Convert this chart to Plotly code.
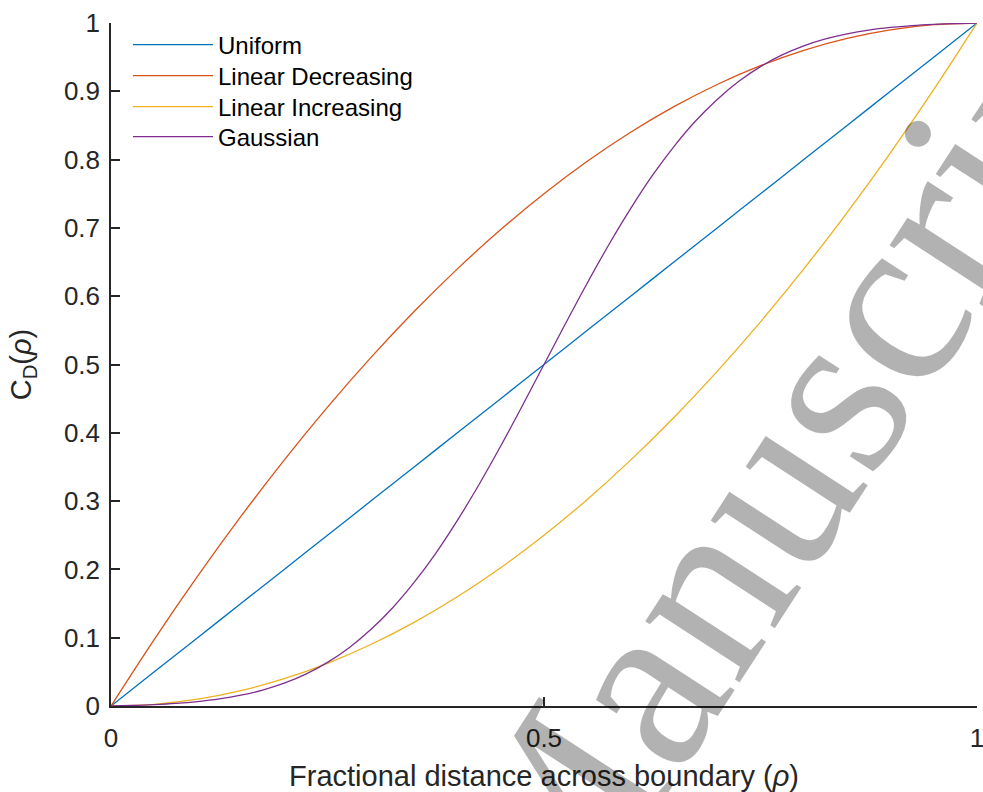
import plotly.graph_objects as go

# Data
rho = [0.0, 0.05, 0.10, 0.15, 0.20, 0.25, 0.30, 0.35, 0.40, 0.45, 0.50,
       0.55, 0.60, 0.65, 0.70, 0.75, 0.80, 0.85, 0.90, 0.95, 1.0]
uniform = [0.0, 0.05, 0.10, 0.15, 0.20, 0.25, 0.30, 0.35, 0.40, 0.45, 0.50,
           0.55, 0.60, 0.65, 0.70, 0.75, 0.80, 0.85, 0.90, 0.95, 1.0]
linear_decreasing = [0.0, 0.0975, 0.19, 0.2775, 0.36, 0.4375, 0.51, 0.5775, 0.64, 0.6975, 0.75,
                     0.7975, 0.84, 0.8775, 0.91, 0.9375, 0.96, 0.9775, 0.99, 0.9975, 1.0]
linear_increasing = [0.0, 0.0025, 0.01, 0.0225, 0.04, 0.0625, 0.09, 0.1225, 0.16, 0.2025, 0.25,
                     0.3025, 0.36, 0.4225, 0.49, 0.5625, 0.64, 0.7225, 0.81, 0.9025, 1.0]

rho_fine = [0.0, 0.025, 0.05, 0.075, 0.10, 0.125, 0.15, 0.175, 0.20, 0.225,
            0.25, 0.275, 0.30, 0.325, 0.35, 0.375, 0.40, 0.425, 0.45, 0.475,
            0.50, 0.525, 0.55, 0.575, 0.60, 0.625, 0.65, 0.675, 0.70, 0.725,
            0.75, 0.775, 0.80, 0.825, 0.85, 0.875, 0.90, 0.925, 0.95, 0.975, 1.0]
gaussian = [0.0, 0.0008, 0.002, 0.0038, 0.0065, 0.0103, 0.0158, 0.0233, 0.0334, 0.0467,
            0.0638, 0.0853, 0.1119, 0.1435, 0.1809, 0.2236, 0.2718, 0.3243, 0.3806, 0.4397,
            0.50, 0.5603, 0.6194, 0.6757, 0.7282, 0.7764, 0.8191, 0.8565, 0.8881, 0.9147,
            0.9362, 0.9533, 0.9666, 0.9767, 0.9842, 0.9897, 0.9935, 0.9962, 0.998, 0.9992, 1.0]

series_names = ["Uniform", "Linear Decreasing", "Linear Increasing", "Gaussian"]
series_x = [rho, rho, rho, rho_fine]
series_values = [uniform, linear_decreasing, linear_increasing, gaussian]
colors = ["#0072BD", "#D95319", "#EDB120", "#7E2F8E"]

y_ticks = [0, 0.1, 0.2, 0.3, 0.4, 0.5, 0.6, 0.7, 0.8, 0.9, 1]
y_ticklabels = ["0", "0.1", "0.2", "0.3", "0.4", "0.5", "0.6", "0.7", "0.8", "0.9", "1"]
x_ticks = [0, 0.5, 1]
x_ticklabels = ["0", "0.5", "1"]

FONT = "Liberation Sans, Arial, sans-serif"

fig = go.Figure()
legend_ids = ["legend", "legend2", "legend3", "legend4"]
for name, xs, vals, col, lg in zip(series_names, series_x, series_values, colors, legend_ids):
    fig.add_trace(go.Scatter(x=xs, y=vals, mode="lines", name=name, legend=lg,
                             line=dict(color=col, width=1.3, shape="spline", smoothing=0.8)))

axis_common = dict(showline=True, linecolor="#262626", linewidth=1.5, mirror=False,
                   ticks="inside", ticklen=9, tickwidth=1.5, tickcolor="#262626",
                   showgrid=False, zeroline=False, ticklabeloverflow="allow",
                   tickfont=dict(family=FONT, size=26, color="#262626"))

# one legend box per entry so rows sit at the reference spacing
row_y = [0.9678, 0.9224, 0.8770, 0.8331]
legend_layout = {}
for lg, ry in zip(legend_ids, row_y):
    legend_layout[lg] = dict(x=0.0196, y=ry, xanchor="left", yanchor="middle",
                             bgcolor="rgba(0,0,0,0)", borderwidth=0,
                             font=dict(family=FONT, size=24, color="#000000"),
                             itemwidth=80)

fig.update_layout(
    width=983, height=792,
    margin=dict(l=111, r=6, t=23, b=86, autoexpand=False),
    paper_bgcolor="white", plot_bgcolor="white",
    showlegend=True,
    xaxis=dict(range=[0, 1], tickvals=x_ticks, ticktext=x_ticklabels, ticklabelstandoff=8,
               title=dict(text="Fractional distance across boundary (<i>ρ</i>)",
                          font=dict(family=FONT, size=29, color="#262626"),
                          standoff=20),
               **axis_common),
    yaxis=dict(range=[0, 1], tickvals=y_ticks, ticktext=y_ticklabels, ticklabelstandoff=4,
               title=dict(text="C<sub>D</sub>(<i>ρ</i>)",
                          font=dict(family=FONT, size=29, color="#262626"),
                          standoff=24),
               **axis_common),
    **legend_layout,
)

fig.add_annotation(text="Manuscript", x=0.7875, y=0.3777, xref="x", yref="y",
                   xanchor="center", yanchor="middle", showarrow=False, textangle=-57,
                   font=dict(family="Liberation Serif, Times New Roman, serif", size=245,
                             color="rgba(0,0,0,0.3)"))

fig.write_html("out.html")
